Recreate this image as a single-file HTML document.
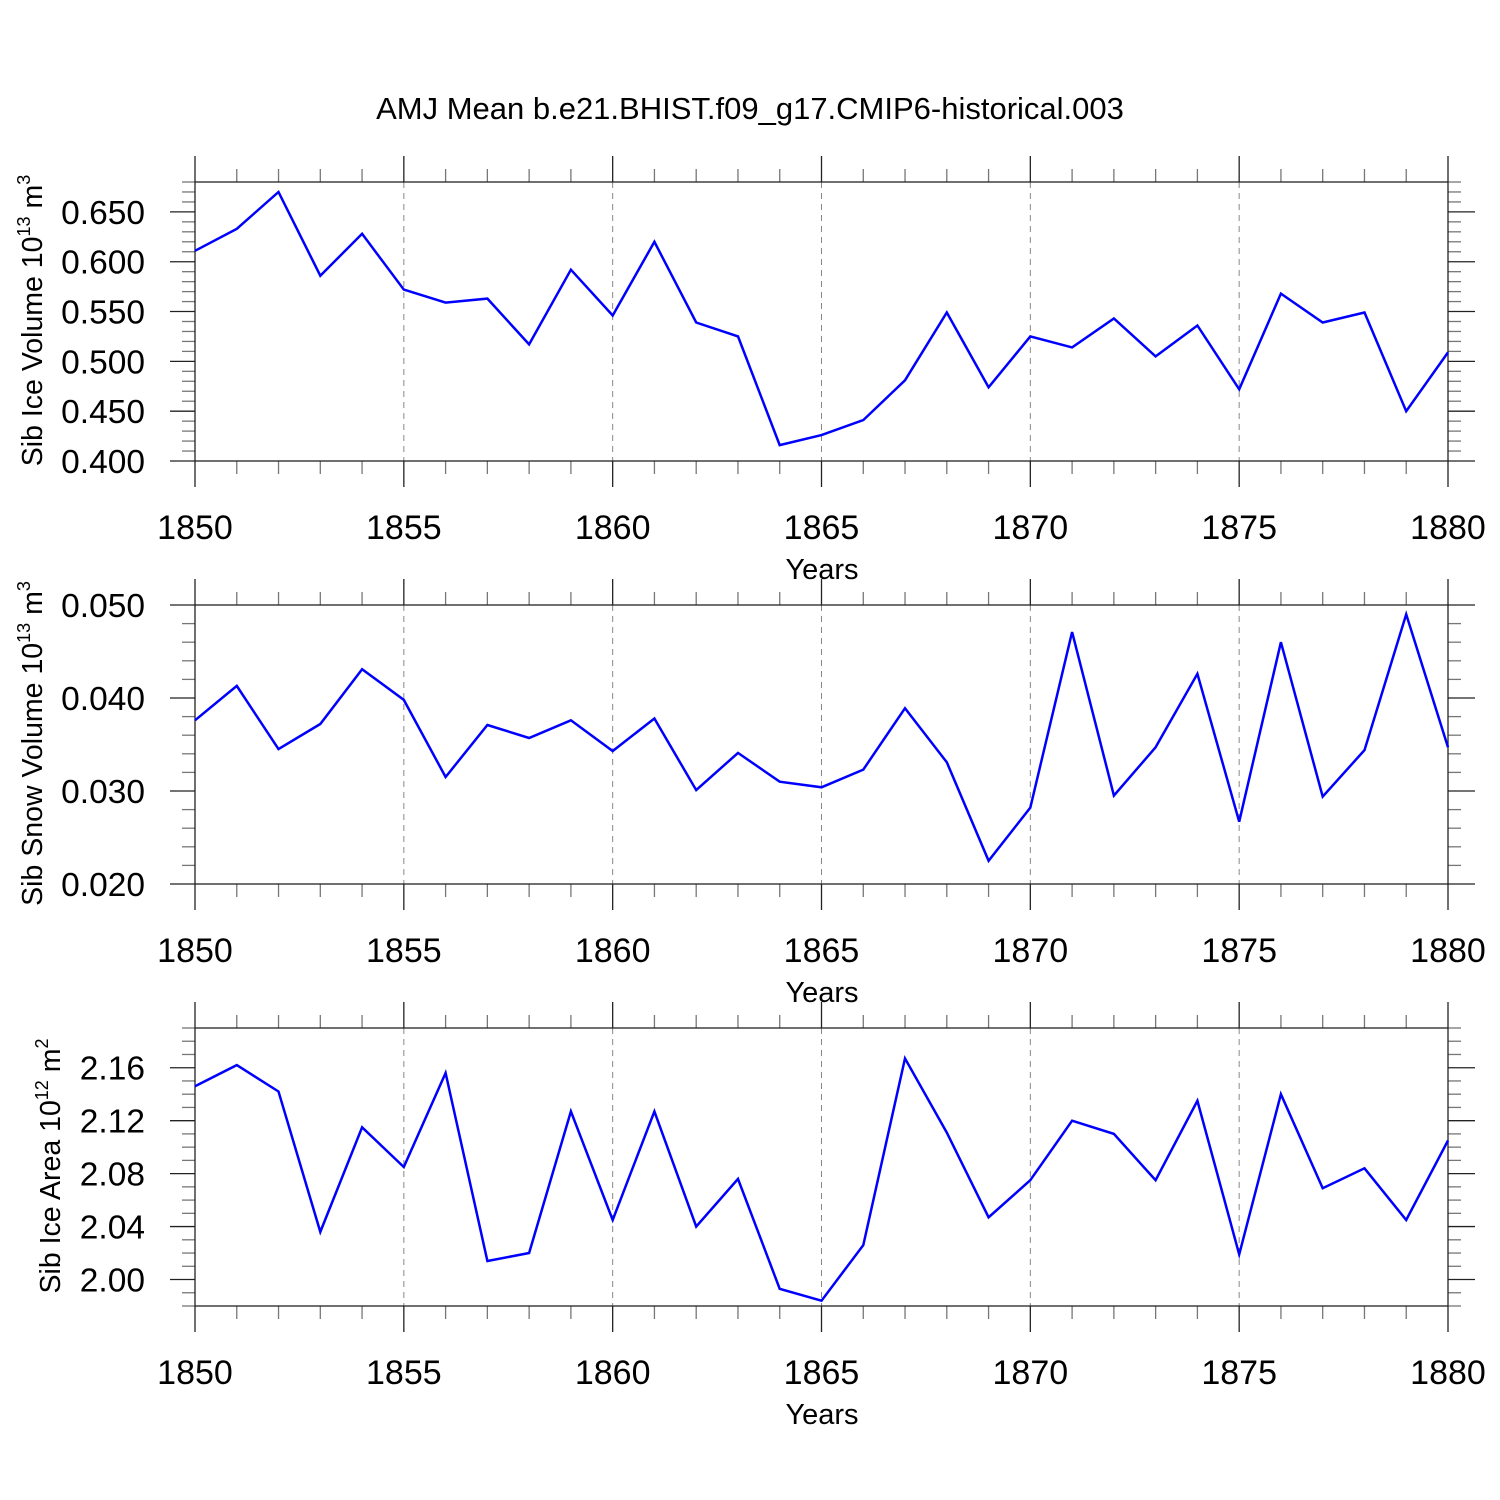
<!DOCTYPE html>
<html><head><meta charset="utf-8"><style>
html,body{margin:0;padding:0;background:#fff;}
svg{display:block;font-family:"Liberation Sans",Arial,sans-serif;}
</style></head><body>
<svg id="chart" width="1500" height="1500" viewBox="0 0 1500 1500">
<text x="750" y="119" font-size="31" text-anchor="middle">AMJ Mean b.e21.BHIST.f09_g17.CMIP6-historical.003</text>
</svg>
<script>
const years = [1850,1851,1852,1853,1854,1855,1856,1857,1858,1859,1860,1861,1862,1863,1864,1865,1866,1867,1868,1869,1870,1871,1872,1873,1874,1875,1876,1877,1878,1879,1880];
const iceVolume = [0.611,0.633,0.670,0.586,0.628,0.572,0.559,0.563,0.517,0.592,0.546,0.620,0.539,0.525,0.416,0.426,0.441,0.481,0.549,0.474,0.525,0.514,0.543,0.505,0.536,0.472,0.568,0.539,0.549,0.450,0.509];
const snowVolume = [0.0376,0.0413,0.0345,0.0372,0.0431,0.0398,0.0315,0.0371,0.0357,0.0376,0.0343,0.0378,0.0301,0.0341,0.0310,0.0304,0.0323,0.0389,0.0331,0.0225,0.0282,0.0471,0.0295,0.0347,0.0426,0.0267,0.0460,0.0294,0.0344,0.0490,0.0347];
const iceArea = [2.146,2.162,2.142,2.036,2.115,2.085,2.156,2.014,2.020,2.127,2.045,2.127,2.040,2.076,1.993,1.984,2.026,2.167,2.111,2.047,2.075,2.120,2.110,2.075,2.135,2.019,2.140,2.069,2.084,2.045,2.105];
const xTickLabels = ["1850","1855","1860","1865","1870","1875","1880"];
const iceVolTicks = ["0.400","0.450","0.500","0.550","0.600","0.650"];
const snowTicks = ["0.020","0.030","0.040","0.050"];
const areaTicks = ["2.00","2.04","2.08","2.12","2.16"];

const NS = "http://www.w3.org/2000/svg";
const svg = document.getElementById('chart');
function mk(tag, attrs, parent){
  const e = document.createElementNS(NS, tag);
  for (const k in attrs) e.setAttribute(k, attrs[k]);
  (parent||svg).appendChild(e);
  return e;
}
const X0 = 195, X1 = 1448;
function xs(yr){ return X0 + (yr - 1850) / 30 * (X1 - X0); }

function panel(cfg){
  const g = mk('g', {});
  
  
  const ys = v => cfg.bot - (v - cfg.ymin) / (cfg.ymax - cfg.ymin) * (cfg.bot - cfg.top);
  for (let yr = 1855; yr <= 1875; yr += 5){
    const l = mk('line', {x1:xs(yr), x2:xs(yr), y1:cfg.top, y2:cfg.bot, stroke:'#888', 'stroke-width':1, 'stroke-dasharray':'6,5'}, g);
    
    
  }
  for (let yr = 1850; yr <= 1880; yr++){
    const major = yr % 5 === 0;
    const len = major ? 26 : 13;
    const c = major ? '#222' : '#777';
    mk('line', {x1:xs(yr), x2:xs(yr), y1:cfg.top - len, y2:cfg.top, stroke:c, 'stroke-width':1.3}, g);
    mk('line', {x1:xs(yr), x2:xs(yr), y1:cfg.bot, y2:cfg.bot + len, stroke:c, 'stroke-width':1.3}, g);
  }
  const nMinor = Math.round((cfg.ymax - cfg.ymin) / cfg.minor);
  for (let i = 0; i <= nMinor; i++){
    const v = cfg.ymin + i * cfg.minor;
    const isMajor = cfg.ticks.some(t => Math.abs(parseFloat(t) - v) < cfg.minor / 10);
    const len = isMajor ? 25 : 13;
    const c = isMajor ? '#222' : '#777';
    const y = ys(v);
    mk('line', {x1:X0 - len, x2:X0, y1:y, y2:y, stroke:c, 'stroke-width':1.3}, g);
    mk('line', {x1:X1, x2:X1 + (isMajor ? 27 : 13), y1:y, y2:y, stroke:c, 'stroke-width':1.3}, g);
  }
  mk('rect', {x:X0, y:cfg.top, width:X1 - X0, height:cfg.bot - cfg.top, fill:'none', stroke:'#222', 'stroke-width':1.3}, g);
  cfg.ticks.forEach(t => {
    const tx = mk('text', {x:145, y:ys(parseFloat(t)) + 12, 'font-size':33.5, 'text-anchor':'end'}, g);
    tx.textContent = t;
    
    
  });
  xTickLabels.forEach(t => {
    const tx = mk('text', {x:xs(parseInt(t)), y:cfg.bot + 78, 'font-size':34, 'text-anchor':'middle'}, g);
    tx.textContent = t;
    
    
  });
  const xt = mk('text', {x:822, y:cfg.bot + 118, 'font-size':29, 'text-anchor':'middle'}, g);
  xt.textContent = 'Years';
  
  
  const yt = mk('text', {x:0, y:0, 'font-size':28.5, 'text-anchor':'middle', transform:'translate(' + cfg.ytx + ',' + ((cfg.top + cfg.bot) / 2 - 1) + ') rotate(-90)'}, g);
  
  
  yt.innerHTML = cfg.ytitle + ' 10<tspan dy="-12" font-size="18">' + cfg.exp + '</tspan><tspan dy="12"> m</tspan><tspan dy="-12" font-size="18">' + cfg.unit + '</tspan>';
  const pts = cfg.data.map((v, i) => xs(years[i]).toFixed(1) + ',' + ys(v).toFixed(1)).join(' ');
  const pl = mk('polyline', {points:pts, fill:'none', stroke:'#0000ff', 'stroke-width':2.5, 'stroke-linejoin':'miter'}, g);
  
  
}

panel({name:'ice-volume-panel', top:182, bot:461, ymin:0.40, ymax:0.68, minor:0.01, ticks:iceVolTicks, data:iceVolume, ytitle:'Sib Ice Volume', exp:'13', unit:'3', ytx:42});
panel({name:'snow-volume-panel', top:605, bot:884, ymin:0.020, ymax:0.050, minor:0.002, ticks:snowTicks, data:snowVolume, ytitle:'Sib Snow Volume', exp:'13', unit:'3', ytx:42});
panel({name:'ice-area-panel', top:1028, bot:1306, ymin:1.98, ymax:2.19, minor:0.01, ticks:areaTicks, data:iceArea, ytitle:'Sib Ice Area', exp:'12', unit:'2', ytx:60});
</script>
</body></html>
